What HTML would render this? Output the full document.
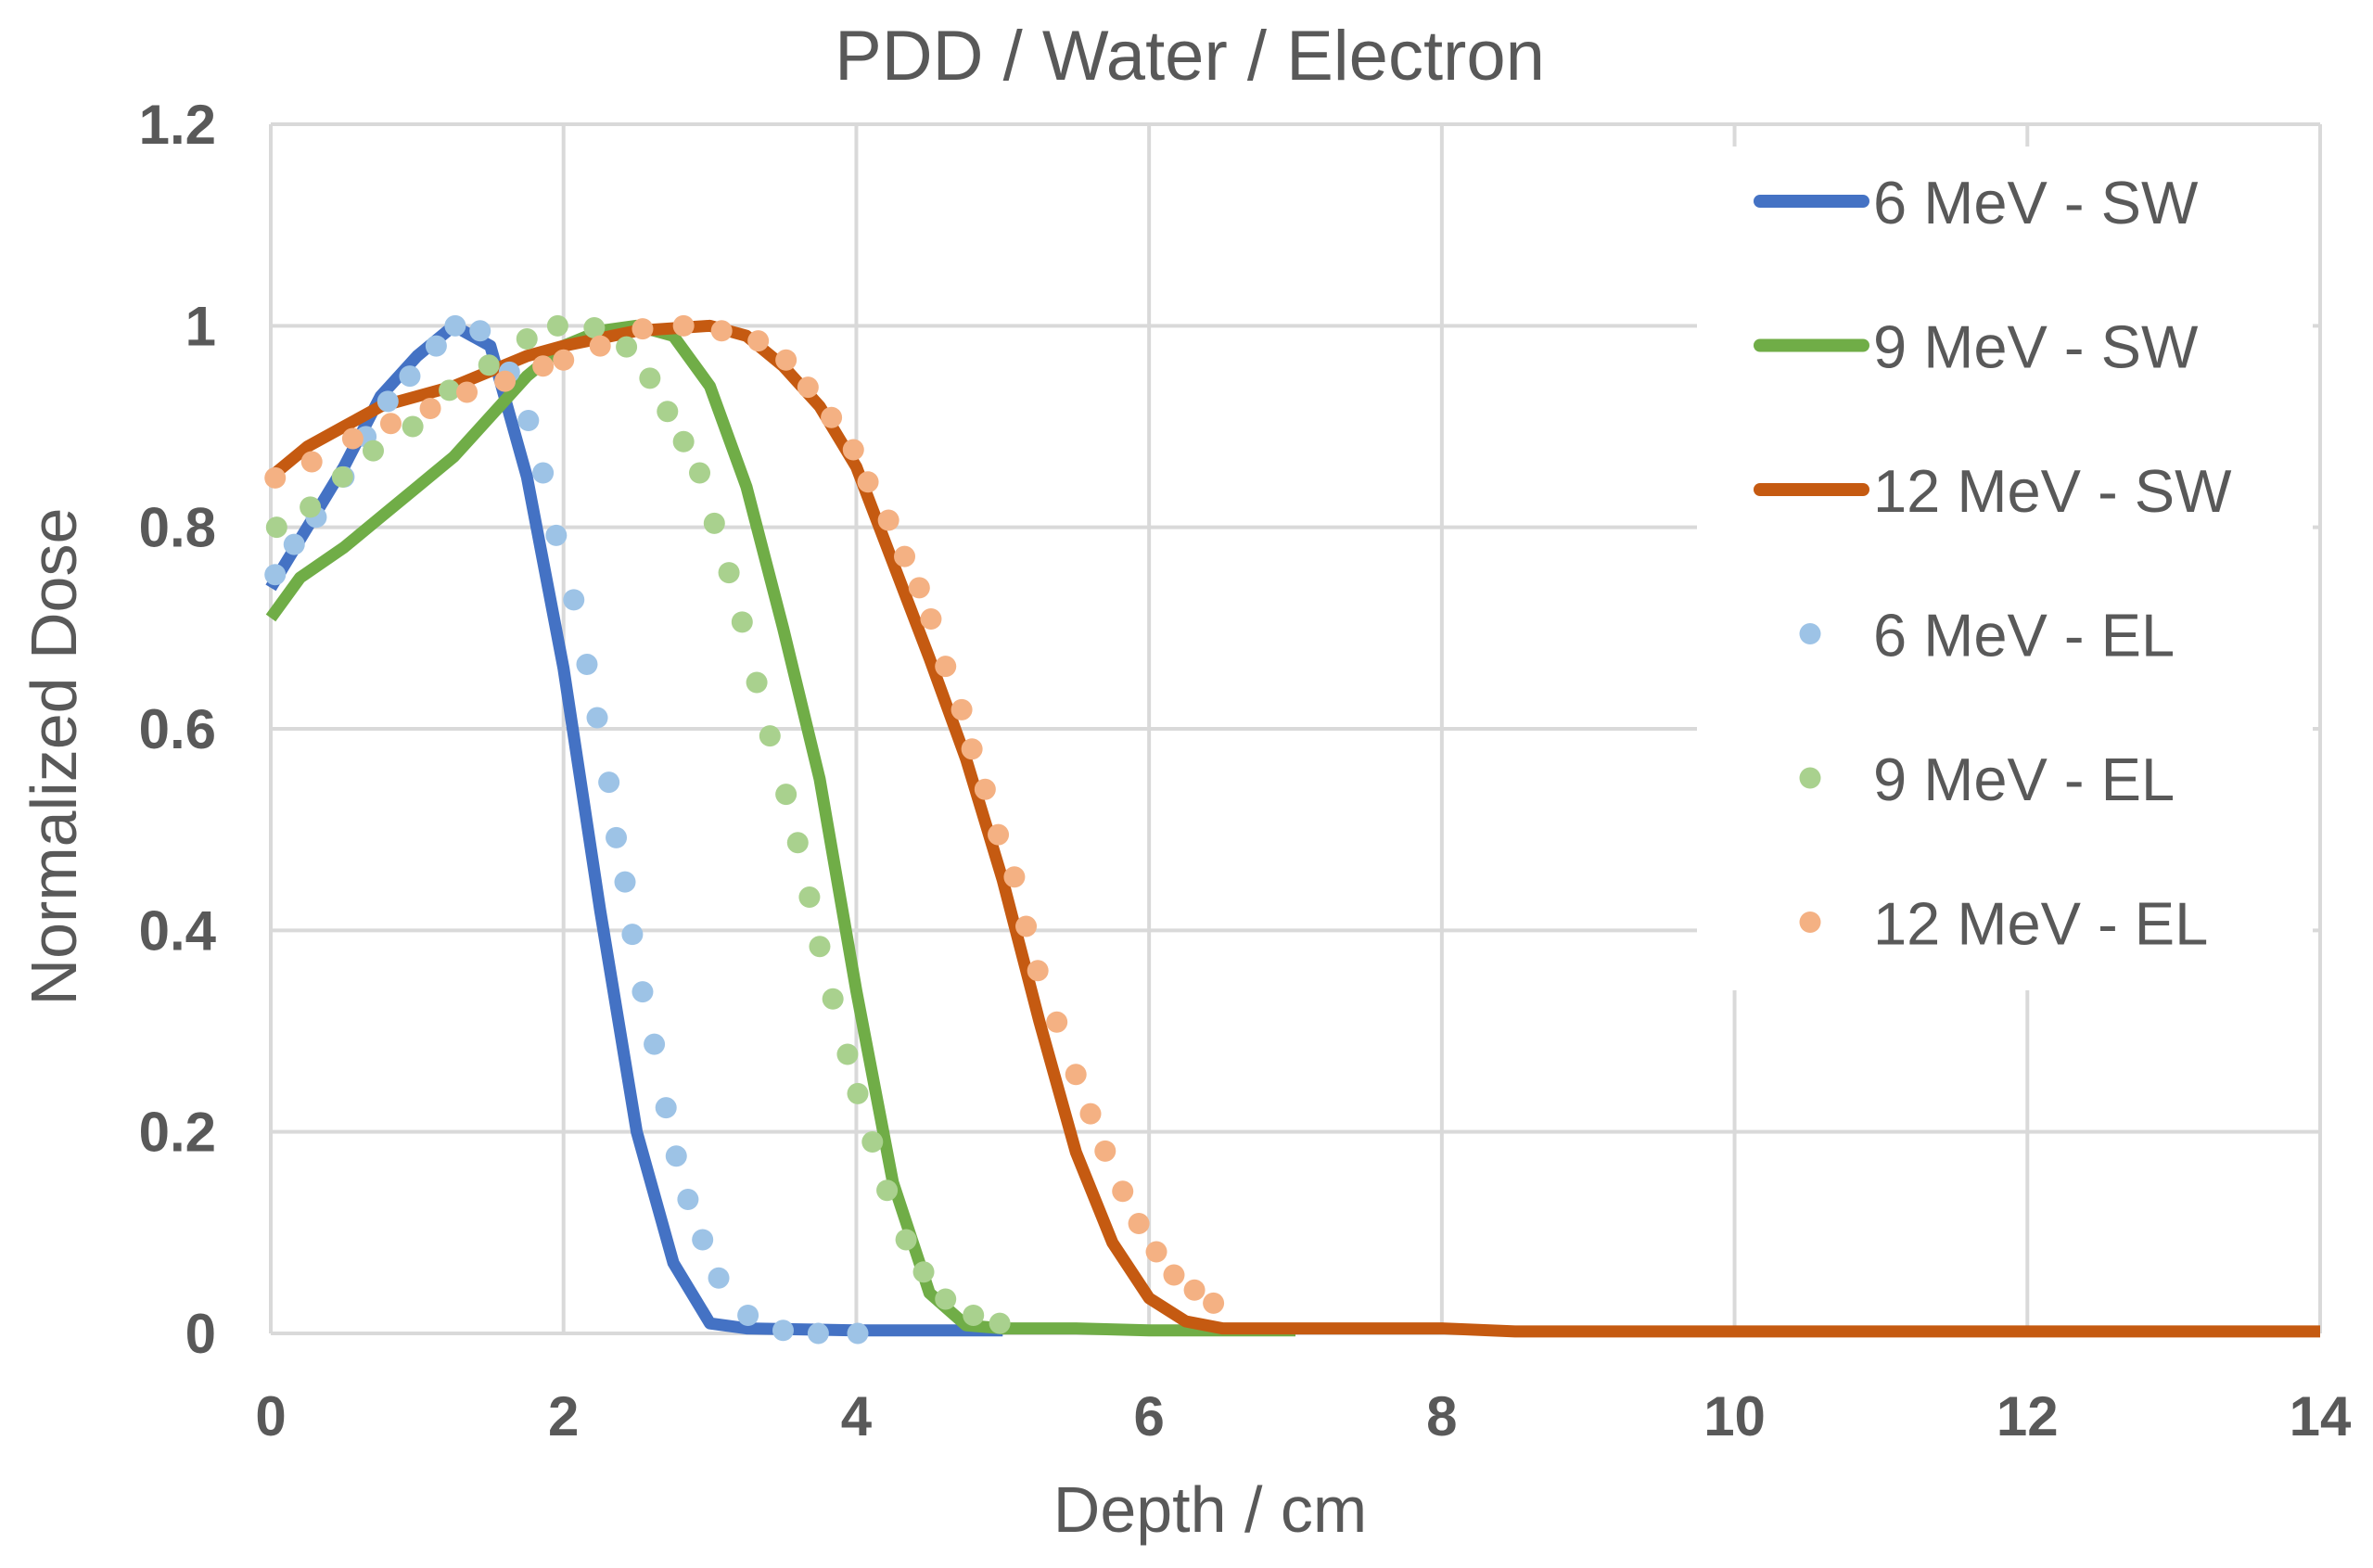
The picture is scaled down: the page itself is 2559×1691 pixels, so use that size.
<!DOCTYPE html>
<html><head><meta charset="utf-8"><style>
html,body{margin:0;padding:0;background:#fff;}
svg{display:block;font-family:"Liberation Sans",Arial,sans-serif;}
</style></head><body>
<svg id="chart" width="2559" height="1691" viewBox="0 0 2559 1691" xmlns="http://www.w3.org/2000/svg">
<text x="1283" y="86" font-size="76" fill="#595959" text-anchor="middle">PDD  / Water / Electron</text>
<g id="grid"></g>
<g id="series"></g>
<g id="ticks"></g>
<text transform="translate(82,816) rotate(-90)" font-size="70" fill="#595959" text-anchor="middle">Normalized Dose</text>
<text x="1305" y="1652" font-size="70" fill="#595959" text-anchor="middle">Depth / cm</text>
<g id="legend"></g>
</svg>
<script>
const xTicks=[0,2,4,6,8,10,12,14];
const yTicks=[0,0.2,0.4,0.6,0.8,1,1.2];
const yTickLabels=["0","0.2","0.4","0.6","0.8","1","1.2"];
const sw6X=[0,0.25,0.5,0.75,1.0,1.25,1.5,1.75,2.0,2.25,2.5,2.75,3.0,3.25,4,5];
const sw6Y=[0.74,0.8,0.86,0.93,0.97,1.0,0.98,0.85,0.66,0.42,0.2,0.07,0.01,0.005,0.003,0.003];
const sw9X=[0,0.2,0.5,0.75,1.0,1.25,1.5,1.75,2.0,2.25,2.5,2.75,3.0,3.25,3.5,3.75,4.0,4.25,4.5,4.75,5.0,5.5,6,7];
const sw9Y=[0.71,0.75,0.78,0.81,0.84,0.87,0.91,0.95,0.98,0.995,1.0,0.99,0.94,0.84,0.70,0.55,0.34,0.15,0.04,0.008,0.005,0.005,0.003,0.003];
const sw12X=[0,0.25,0.5,0.75,1.0,1.25,1.5,1.75,2.0,2.5,3.0,3.25,3.5,3.75,4.0,4.25,4.5,4.75,5.0,5.25,5.5,5.75,6.0,6.25,6.5,8,8.5,14];
const sw12Y=[0.85,0.88,0.9,0.92,0.93,0.94,0.955,0.97,0.98,0.995,1.0,0.99,0.96,0.92,0.86,0.765,0.67,0.57,0.45,0.31,0.18,0.09,0.035,0.012,0.005,0.005,0.002,0.002];
const el6X=[0.03,0.16,0.31,0.5,0.65,0.8,0.95,1.13,1.26,1.43,1.63,1.76,1.86,1.95,2.07,2.16,2.23,2.31,2.36,2.42,2.47,2.54,2.62,2.70,2.77,2.85,2.95,3.06,3.26,3.50,3.74,4.01];
const el6Y=[0.753,0.783,0.81,0.85,0.89,0.925,0.95,0.98,1.0,0.995,0.954,0.906,0.854,0.792,0.728,0.664,0.611,0.547,0.492,0.448,0.396,0.339,0.287,0.224,0.176,0.133,0.093,0.055,0.018,0.003,0,0];
const el9X=[0.04,0.27,0.49,0.70,0.97,1.22,1.49,1.75,1.96,2.21,2.43,2.59,2.71,2.82,2.93,3.03,3.13,3.22,3.32,3.41,3.52,3.60,3.68,3.75,3.84,3.94,4.01,4.11,4.21,4.34,4.46,4.61,4.80,4.98];
const el9Y=[0.80,0.82,0.85,0.876,0.90,0.936,0.961,0.987,1.0,0.998,0.979,0.948,0.915,0.885,0.854,0.804,0.755,0.706,0.646,0.593,0.535,0.487,0.433,0.384,0.332,0.277,0.238,0.19,0.142,0.093,0.061,0.034,0.018,0.01];
const el12X=[0.03,0.28,0.56,0.82,1.09,1.34,1.60,1.86,2.0,2.25,2.54,2.82,3.08,3.33,3.52,3.67,3.83,3.98,4.08,4.22,4.33,4.43,4.51,4.61,4.72,4.79,4.88,4.97,5.08,5.16,5.24,5.37,5.50,5.60,5.70,5.82,5.93,6.05,6.17,6.31,6.44];
const el12Y=[0.849,0.865,0.888,0.903,0.918,0.934,0.945,0.96,0.966,0.98,0.997,1.0,0.995,0.985,0.966,0.939,0.909,0.877,0.845,0.807,0.771,0.74,0.709,0.662,0.619,0.58,0.54,0.495,0.453,0.404,0.36,0.309,0.257,0.218,0.181,0.141,0.109,0.081,0.058,0.043,0.03];
const legendLabels=["6 MeV - SW","9 MeV - SW","12 MeV - SW","6 MeV - EL","9 MeV - EL","12 MeV - EL"];

const NS="http://www.w3.org/2000/svg";
const X0=292,X1=2502,Y0=1438,Y1=134;
function sx(v){return X0+(v-0)/(14-0)*(X1-X0);}
function sy(v){return Y0-(v-0)/(1.2-0)*(Y0-Y1);}
function mk(tag,parent){const e=document.createElementNS(NS,tag);parent.appendChild(e);return e;}
const grid=document.getElementById('grid'),ser=document.getElementById('series'),tk=document.getElementById('ticks'),lg=document.getElementById('legend');
xTicks.forEach(t=>{const l=mk('line',grid);


l.setAttribute('x1',sx(t));l.setAttribute('x2',sx(t));l.setAttribute('y1',Y1);l.setAttribute('y2',Y0);l.setAttribute('stroke','#d9d9d9');l.setAttribute('stroke-width','4');
const tx=mk('text',tk);


tx.setAttribute('x',sx(t));tx.setAttribute('y',1548);tx.setAttribute('text-anchor','middle');tx.setAttribute('font-size','60');tx.setAttribute('font-weight','bold');tx.setAttribute('fill','#595959');tx.textContent=String(t);});
yTicks.forEach((t,i)=>{const l=mk('line',grid);


l.setAttribute('x1',X0);l.setAttribute('x2',X1);l.setAttribute('y1',sy(t));l.setAttribute('y2',sy(t));l.setAttribute('stroke','#d9d9d9');l.setAttribute('stroke-width','4');
const tx=mk('text',tk);


tx.setAttribute('x',233);tx.setAttribute('y',sy(t)+21);tx.setAttribute('text-anchor','end');tx.setAttribute('font-size','60');tx.setAttribute('font-weight','bold');tx.setAttribute('fill','#595959');tx.textContent=yTickLabels[i];});
function dots(xs,ys,c,name){xs.forEach((x,i)=>{const d=mk('circle',ser);


d.setAttribute('cx',sx(x));d.setAttribute('cy',sy(ys[i]));d.setAttribute('r','11.5');d.setAttribute('fill',c);});}
function line(xs,ys,c,name){const p=mk('polyline',ser);


p.setAttribute('points',xs.map((x,i)=>sx(x)+','+sy(ys[i])).join(' '));p.setAttribute('fill','none');p.setAttribute('stroke',c);p.setAttribute('stroke-width','13');p.setAttribute('stroke-linejoin','round');}
line(sw6X,sw6Y,'#4472C4','line-6mev-sw');
line(sw9X,sw9Y,'#70AD47','line-9mev-sw');
line(sw12X,sw12Y,'#C55A11','line-12mev-sw');
dots(el6X,el6Y,'#9DC3E6','dot-6mev-el');
dots(el9X,el9Y,'#A9D18E','dot-9mev-el');
dots(el12X,el12Y,'#F4B183','dot-12mev-el');
const bg=mk('rect',lg);


bg.setAttribute('x',1830);bg.setAttribute('y',158);bg.setAttribute('width',664);bg.setAttribute('height',910);bg.setAttribute('fill','#fff');
const cols=['#4472C4','#70AD47','#C55A11','#9DC3E6','#A9D18E','#F4B183'];
legendLabels.forEach((lab,i)=>{const y=217+i*155.5;
if(i<3){const l=mk('line',lg);


l.setAttribute('x1',1898);l.setAttribute('x2',2009);l.setAttribute('y1',y);l.setAttribute('y2',y);l.setAttribute('stroke',cols[i]);l.setAttribute('stroke-width','14');l.setAttribute('stroke-linecap','round');}
else{const c=mk('circle',lg);


c.setAttribute('cx',1952);c.setAttribute('cy',y);c.setAttribute('r','11.5');c.setAttribute('fill',cols[i]);}
const t=mk('text',lg);


t.setAttribute('x',2020);t.setAttribute('y',y+24);t.setAttribute('font-size','65');t.setAttribute('fill','#595959');t.textContent=lab;});
</script>
</body></html>
